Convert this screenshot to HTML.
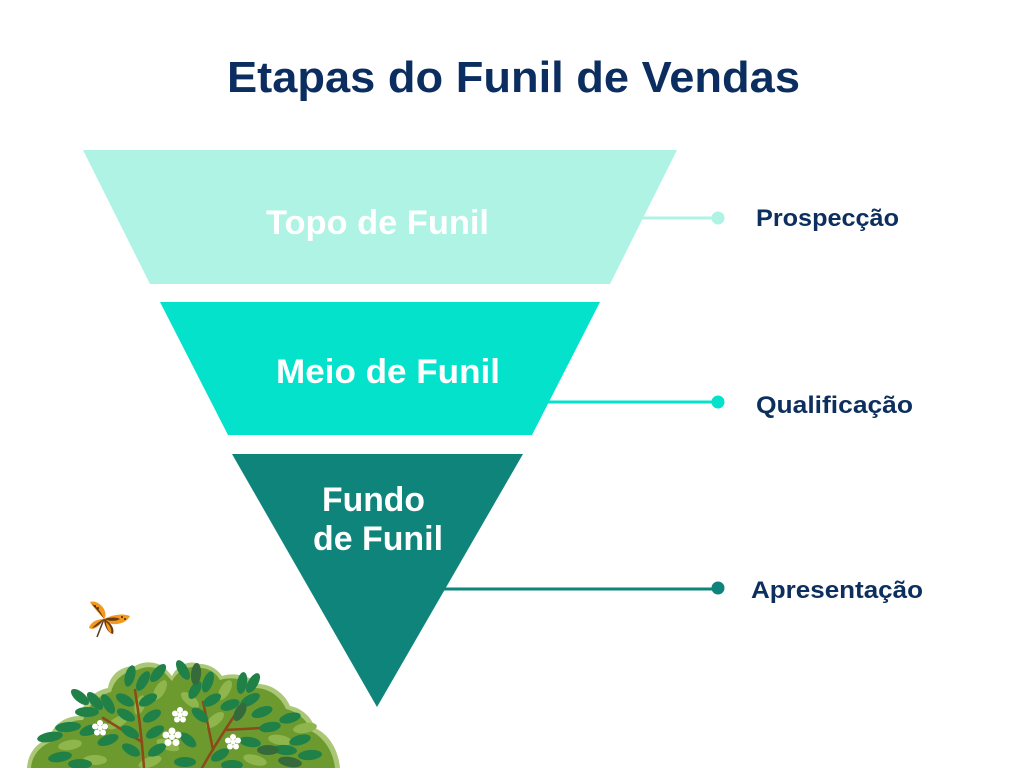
<!DOCTYPE html>
<html>
<head>
<meta charset="utf-8">
<style>
  html,body{margin:0;padding:0;background:#ffffff;}
  body{width:1024px;height:768px;overflow:hidden;}
  svg{display:block;}
  text{font-family:"Liberation Sans",Arial,sans-serif;font-weight:bold;}
</style>
</head>
<body>
<svg width="1024" height="768" viewBox="0 0 1024 768" xmlns="http://www.w3.org/2000/svg">
  <rect width="1024" height="768" fill="#ffffff"/>

  <!-- Title -->
  <text x="227" y="92" font-size="44" fill="#0b2d5f" textLength="573" lengthAdjust="spacingAndGlyphs">Etapas do Funil de Vendas</text>

  <!-- Connectors -->
  <line x1="640" y1="218" x2="718" y2="218" stroke="#aef3e3" stroke-width="3"/>
  <circle cx="718" cy="218" r="6.5" fill="#aef3e3"/>
  <line x1="545" y1="402" x2="718" y2="402" stroke="#04e2cb" stroke-width="3"/>
  <circle cx="718" cy="402" r="6.5" fill="#04e2cb"/>
  <line x1="440" y1="589" x2="718" y2="589" stroke="#0e847a" stroke-width="3"/>
  <circle cx="718" cy="588" r="6.5" fill="#0e847a"/>

  <!-- Funnel -->
  <polygon points="83,150 677,150 610,284 150,284" fill="#aef3e3"/>
  <polygon points="160,302 600,302 532,435 228,435" fill="#04e2cb"/>
  <polygon points="232,454 523,454 377,707" fill="#0e847a"/>

  <!-- Funnel labels -->
  <text x="266" y="234" font-size="34" fill="#ffffff" textLength="223" lengthAdjust="spacingAndGlyphs">Topo de Funil</text>
  <text x="276" y="383" font-size="34" fill="#ffffff" textLength="224" lengthAdjust="spacingAndGlyphs">Meio de Funil</text>
  <text x="322" y="511" font-size="34" fill="#ffffff" textLength="103" lengthAdjust="spacingAndGlyphs">Fundo</text>
  <text x="313" y="550" font-size="34" fill="#ffffff" textLength="130" lengthAdjust="spacingAndGlyphs">de Funil</text>

  <!-- Right labels -->
  <text x="756" y="226" font-size="24" fill="#0d2f5e" textLength="143" lengthAdjust="spacingAndGlyphs">Prospecção</text>
  <text x="756" y="413" font-size="24" fill="#0d2f5e" textLength="157" lengthAdjust="spacingAndGlyphs">Qualificação</text>
  <text x="751" y="598" font-size="24" fill="#0d2f5e" textLength="172" lengthAdjust="spacingAndGlyphs">Apresentação</text>

  <!-- Butterfly -->
  <g>
    <path d="M104,619 L97,637" stroke="#5a3a1a" stroke-width="1.5"/>
    <path d="M104,619 C98,612 92,606 90,602 C95,600 101,604 104,609 C106,613 106,617 104,619 Z" fill="#f39a1e"/>
    <path d="M104,619 C100,613 95,608 92,604 C97,606 101,612 104,619 Z" fill="#6b3a12"/>
    <path d="M104,619 C96,619 90,623 89,628 C94,631 100,626 104,619 Z" fill="#f39a1e"/>
    <path d="M104,619 C98,622 94,626 92,628 C97,627 101,623 104,619 Z" fill="#6b3a12"/>
    <path d="M104,619 C112,615 122,613 130,616 C128,621 120,625 112,624 C108,623 105,621 104,619 Z" fill="#f39a1e"/>
    <path d="M104,619 C111,617 117,617 120,619 C115,622 108,621 104,619 Z" fill="#6b3a12"/>
    <path d="M104,619 C110,622 115,628 113,634 C108,633 104,626 104,619 Z" fill="#6b3a12"/>
    <path d="M106,622 C110,625 112,630 111,633 C108,631 106,626 106,622 Z" fill="#f39a1e"/>
    <circle cx="95" cy="606" r="1" fill="#4a2a0a"/>
    <circle cx="98" cy="608" r="1" fill="#4a2a0a"/>
    <circle cx="122" cy="617" r="1" fill="#4a2a0a"/>
    <circle cx="125" cy="619" r="1" fill="#4a2a0a"/>
  </g>

  <!-- Bush -->
  <g>
    <path d="M27,768 C28,752 38,742 50,738 C52,725 65,716 80,716 C84,700 96,690 108,688 C110,674 122,666 135,666 C145,660 158,662 165,668 L172,676 C178,664 190,660 200,664 C210,664 218,670 222,676 C235,672 250,676 258,684 C272,684 285,694 290,706 C302,708 312,718 315,728 C328,734 338,748 340,768 Z" fill="#a9c774"/>
    <path d="M31,768 C32,754 42,745 53,741 C56,729 68,720 83,720 C88,705 99,695 111,692 C114,679 125,671 137,670 C147,665 157,667 164,672 L172,681 C179,669 190,665 200,668 C209,668 216,673 220,680 C233,676 248,680 255,688 C269,688 281,697 286,709 C298,712 308,721 311,731 C323,737 333,750 335,768 Z" fill="#6c9a2e"/>
    <!-- light leaves -->
    <g fill="#8fb64c">
      <ellipse cx="70" cy="745" rx="12" ry="5" transform="rotate(-10 70 745)"/>
      <ellipse cx="118" cy="722" rx="12" ry="5" transform="rotate(-30 118 722)"/>
      <ellipse cx="160" cy="690" rx="11" ry="5" transform="rotate(-60 160 690)"/>
      <ellipse cx="168" cy="745" rx="12" ry="5" transform="rotate(20 168 745)"/>
      <ellipse cx="190" cy="700" rx="11" ry="5" transform="rotate(40 190 700)"/>
      <ellipse cx="225" cy="690" rx="11" ry="5" transform="rotate(-60 225 690)"/>
      <ellipse cx="280" cy="740" rx="12" ry="5" transform="rotate(10 280 740)"/>
      <ellipse cx="305" cy="728" rx="12" ry="5" transform="rotate(-10 305 728)"/>
      <ellipse cx="150" cy="762" rx="12" ry="5" transform="rotate(-20 150 762)"/>
      <ellipse cx="95" cy="760" rx="12" ry="5"/>
      <ellipse cx="255" cy="760" rx="12" ry="5" transform="rotate(15 255 760)"/>
      <ellipse cx="215" cy="720" rx="11" ry="5" transform="rotate(-40 215 720)"/>
      <ellipse cx="140" cy="705" rx="10" ry="5" transform="rotate(-70 140 705)"/>
    </g>
    <!-- branches -->
    <g stroke="#8c4a1a" stroke-width="2.5" fill="none" stroke-linecap="round">
      <path d="M144,768 C142,740 139,715 135,690"/>
      <path d="M103,718 L142,742"/>
      <path d="M202,768 C215,745 230,722 243,703"/>
      <path d="M203,702 C207,720 210,735 213,750"/>
      <path d="M225,730 L261,728"/>
    </g>
    <!-- dark leaves -->
    <g fill="#1f8048">
      <ellipse cx="130" cy="676" rx="11" ry="5" transform="rotate(-75 130 676)"/>
      <ellipse cx="143" cy="681" rx="11" ry="5" transform="rotate(-60 143 681)"/>
      <ellipse cx="158" cy="673" rx="11" ry="5" transform="rotate(-50 158 673)"/>
      <ellipse cx="183" cy="670" rx="11" ry="5" transform="rotate(60 183 670)"/>
      <ellipse cx="208" cy="682" rx="11" ry="5" transform="rotate(-70 208 682)"/>
      <ellipse cx="242" cy="683" rx="11" ry="5" transform="rotate(-80 242 683)"/>
      <ellipse cx="253" cy="683" rx="11" ry="5" transform="rotate(-60 253 683)"/>
      <ellipse cx="80" cy="697" rx="11" ry="5" transform="rotate(40 80 697)"/>
      <ellipse cx="95" cy="701" rx="11" ry="5" transform="rotate(50 95 701)"/>
      <ellipse cx="108" cy="704" rx="11" ry="5" transform="rotate(60 108 704)"/>
      <ellipse cx="87" cy="712" rx="12" ry="5" transform="rotate(0 87 712)"/>
      <ellipse cx="68" cy="727" rx="13" ry="5" transform="rotate(-5 68 727)"/>
      <ellipse cx="50" cy="737" rx="13" ry="5" transform="rotate(-10 50 737)"/>
      <ellipse cx="125" cy="700" rx="10" ry="5" transform="rotate(30 125 700)"/>
      <ellipse cx="148" cy="700" rx="10" ry="5" transform="rotate(-30 148 700)"/>
      <ellipse cx="126" cy="715" rx="10" ry="5" transform="rotate(30 126 715)"/>
      <ellipse cx="152" cy="716" rx="10" ry="5" transform="rotate(-30 152 716)"/>
      <ellipse cx="130" cy="732" rx="10" ry="5" transform="rotate(30 130 732)"/>
      <ellipse cx="155" cy="732" rx="10" ry="5" transform="rotate(-30 155 732)"/>
      <ellipse cx="131" cy="750" rx="10" ry="5" transform="rotate(30 131 750)"/>
      <ellipse cx="157" cy="750" rx="10" ry="5" transform="rotate(-30 157 750)"/>
      <ellipse cx="90" cy="730" rx="11" ry="5" transform="rotate(-20 90 730)"/>
      <ellipse cx="108" cy="740" rx="11" ry="5" transform="rotate(-20 108 740)"/>
      <ellipse cx="60" cy="757" rx="12" ry="5" transform="rotate(-10 60 757)"/>
      <ellipse cx="80" cy="764" rx="12" ry="5"/>
      <ellipse cx="195" cy="690" rx="10" ry="5" transform="rotate(-60 195 690)"/>
      <ellipse cx="212" cy="700" rx="10" ry="5" transform="rotate(-30 212 700)"/>
      <ellipse cx="200" cy="715" rx="10" ry="5" transform="rotate(40 200 715)"/>
      <ellipse cx="230" cy="705" rx="10" ry="5" transform="rotate(-20 230 705)"/>
      <ellipse cx="250" cy="700" rx="11" ry="5" transform="rotate(-30 250 700)"/>
      <ellipse cx="262" cy="712" rx="11" ry="5" transform="rotate(-20 262 712)"/>
      <ellipse cx="270" cy="727" rx="11" ry="5" transform="rotate(-10 270 727)"/>
      <ellipse cx="250" cy="742" rx="11" ry="5" transform="rotate(10 250 742)"/>
      <ellipse cx="285" cy="750" rx="12" ry="5" transform="rotate(5 285 750)"/>
      <ellipse cx="310" cy="755" rx="12" ry="5" transform="rotate(-5 310 755)"/>
      <ellipse cx="300" cy="740" rx="11" ry="5" transform="rotate(-15 300 740)"/>
      <ellipse cx="188" cy="740" rx="10" ry="5" transform="rotate(40 188 740)"/>
      <ellipse cx="220" cy="755" rx="10" ry="5" transform="rotate(-30 220 755)"/>
      <ellipse cx="185" cy="762" rx="11" ry="5"/>
      <ellipse cx="232" cy="765" rx="11" ry="5"/>
      <ellipse cx="290" cy="718" rx="11" ry="5" transform="rotate(-15 290 718)"/>
    </g>
    <g fill="#356a3a">
      <ellipse cx="196" cy="674" rx="11" ry="5" transform="rotate(-85 196 674)"/>
      <ellipse cx="240" cy="712" rx="10" ry="5" transform="rotate(-60 240 712)"/>
      <ellipse cx="290" cy="762" rx="12" ry="5" transform="rotate(10 290 762)"/>
      <ellipse cx="268" cy="750" rx="11" ry="5"/>
    </g>
    <!-- flowers -->
    <g fill="#ffffff">
      <g transform="translate(100,728)">
        <circle r="2.5"/><circle cx="0" cy="-5" r="3"/><circle cx="5" cy="-1.5" r="3"/><circle cx="3" cy="4.5" r="3"/><circle cx="-3" cy="4.5" r="3"/><circle cx="-5" cy="-1.5" r="3"/>
      </g>
      <g transform="translate(180,715)">
        <circle r="2.5"/><circle cx="0" cy="-5" r="3"/><circle cx="5" cy="-1.5" r="3"/><circle cx="3" cy="4.5" r="3"/><circle cx="-3" cy="4.5" r="3"/><circle cx="-5" cy="-1.5" r="3"/>
      </g>
      <g transform="translate(172,737)">
        <circle r="3"/><circle cx="0" cy="-6" r="3.5"/><circle cx="6" cy="-2" r="3.5"/><circle cx="4" cy="5.5" r="3.5"/><circle cx="-4" cy="5.5" r="3.5"/><circle cx="-6" cy="-2" r="3.5"/>
      </g>
      <g transform="translate(233,742)">
        <circle r="2.5"/><circle cx="0" cy="-5" r="3"/><circle cx="5" cy="-1.5" r="3"/><circle cx="3" cy="4.5" r="3"/><circle cx="-3" cy="4.5" r="3"/><circle cx="-5" cy="-1.5" r="3"/>
      </g>
    </g>
  </g>
</svg>
</body>
</html>
